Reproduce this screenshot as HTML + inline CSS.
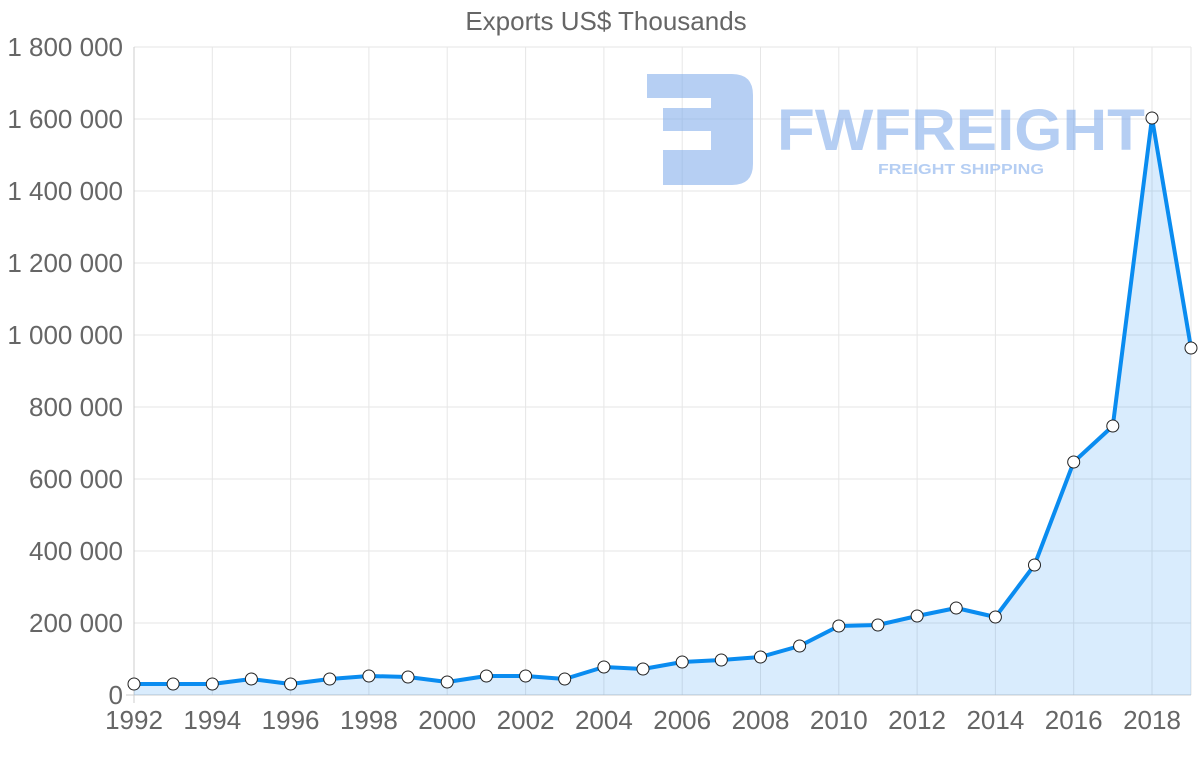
<!DOCTYPE html>
<html><head><meta charset="utf-8"><style>
body{margin:0;background:#fff;width:1200px;height:763px;overflow:hidden}
svg text{font-family:"Liberation Sans",sans-serif}
</style></head><body>
<svg width="1200" height="763" xmlns="http://www.w3.org/2000/svg">
<text x="606" y="30" text-anchor="middle" font-size="26" fill="#666">Exports US$ Thousands</text>
<g stroke="#e6e6e6" stroke-width="1">
<line x1="134" y1="47" x2="1191" y2="47"/><line x1="134" y1="119" x2="1191" y2="119"/>
<line x1="134" y1="191" x2="1191" y2="191"/><line x1="134" y1="263" x2="1191" y2="263"/>
<line x1="134" y1="335" x2="1191" y2="335"/><line x1="134" y1="407" x2="1191" y2="407"/>
<line x1="134" y1="479" x2="1191" y2="479"/><line x1="134" y1="551" x2="1191" y2="551"/>
<line x1="134" y1="623" x2="1191" y2="623"/>
<line x1="212.3" y1="47" x2="212.3" y2="695"/><line x1="290.6" y1="47" x2="290.6" y2="695"/>
<line x1="368.9" y1="47" x2="368.9" y2="695"/><line x1="447.2" y1="47" x2="447.2" y2="695"/>
<line x1="525.6" y1="47" x2="525.6" y2="695"/><line x1="603.9" y1="47" x2="603.9" y2="695"/>
<line x1="682.2" y1="47" x2="682.2" y2="695"/><line x1="760.5" y1="47" x2="760.5" y2="695"/>
<line x1="838.8" y1="47" x2="838.8" y2="695"/><line x1="917.1" y1="47" x2="917.1" y2="695"/>
<line x1="995.4" y1="47" x2="995.4" y2="695"/><line x1="1073.7" y1="47" x2="1073.7" y2="695"/>
<line x1="1152" y1="47" x2="1152" y2="695"/><line x1="1191" y1="47" x2="1191" y2="695"/>
</g>
<line x1="134" y1="47" x2="134" y2="703" stroke="#ccc"/>
<line x1="126" y1="695" x2="1191" y2="695" stroke="#ccc"/>
<g font-size="26" fill="#666" text-anchor="end">
<text x="123" y="56">1 800 000</text><text x="123" y="128">1 600 000</text>
<text x="123" y="200">1 400 000</text><text x="123" y="272">1 200 000</text>
<text x="123" y="344">1 000 000</text><text x="123" y="416">800 000</text>
<text x="123" y="488">600 000</text><text x="123" y="560">400 000</text>
<text x="123" y="632">200 000</text><text x="123" y="704">0</text>
</g>
<g font-size="26" fill="#666" text-anchor="middle">
<text x="134" y="729">1992</text><text x="212.3" y="729">1994</text><text x="290.6" y="729">1996</text>
<text x="368.9" y="729">1998</text><text x="447.2" y="729">2000</text><text x="525.6" y="729">2002</text>
<text x="603.9" y="729">2004</text><text x="682.2" y="729">2006</text><text x="760.5" y="729">2008</text>
<text x="838.8" y="729">2010</text><text x="917.1" y="729">2012</text><text x="995.4" y="729">2014</text>
<text x="1073.7" y="729">2016</text><text x="1152" y="729">2018</text>
</g>
<!-- logo -->
<g fill="#7aa7ea" opacity="0.55">
<path d="M647 74 H732 Q753 74 753 95 V164 Q753 185 732 185 H663 V150 H711 V131 H663 V108 H711 V98 H647 Z"/>
</g>
<text x="777" y="150" font-size="58" font-weight="bold" fill="#7aa7ea" opacity="0.55" textLength="368" lengthAdjust="spacingAndGlyphs">FWFREIGHT</text>
<text x="878" y="174" font-size="15" font-weight="bold" fill="#7aa7ea" opacity="0.55" font-family="Liberation Serif" textLength="166" lengthAdjust="spacingAndGlyphs">FREIGHT SHIPPING</text>
<path fill="rgba(0,130,240,0.15)" d="M134,684 L173.1,684 L212.3,684 L251.4,679 L290.6,684 L329.7,679 L368.9,676 L408,677 L447.2,682 L486.4,676 L525.6,676 L564.7,679 L603.9,667 L643,669 L682.2,662 L721.3,660 L760.5,657 L799.6,646 L838.8,626 L877.9,625 L917.1,616 L956.2,608 L995.4,617 L1034.5,565 L1073.7,462 L1112.8,426 L1152,118 L1191,348 L1191,695 L134,695 Z"/>
<polyline fill="none" stroke="#0a8cf0" stroke-width="4" stroke-linejoin="round" points="134,684 173.1,684 212.3,684 251.4,679 290.6,684 329.7,679 368.9,676 408,677 447.2,682 486.4,676 525.6,676 564.7,679 603.9,667 643,669 682.2,662 721.3,660 760.5,657 799.6,646 838.8,626 877.9,625 917.1,616 956.2,608 995.4,617 1034.5,565 1073.7,462 1112.8,426 1152,118 1191,348"/>
<g fill="#fff" stroke="#222" stroke-width="1">
<circle cx="134" cy="684" r="6"/><circle cx="173.1" cy="684" r="6"/><circle cx="212.3" cy="684" r="6"/>
<circle cx="251.4" cy="679" r="6"/><circle cx="290.6" cy="684" r="6"/><circle cx="329.7" cy="679" r="6"/>
<circle cx="368.9" cy="676" r="6"/><circle cx="408" cy="677" r="6"/><circle cx="447.2" cy="682" r="6"/>
<circle cx="486.4" cy="676" r="6"/><circle cx="525.6" cy="676" r="6"/><circle cx="564.7" cy="679" r="6"/>
<circle cx="603.9" cy="667" r="6"/><circle cx="643" cy="669" r="6"/><circle cx="682.2" cy="662" r="6"/>
<circle cx="721.3" cy="660" r="6"/><circle cx="760.5" cy="657" r="6"/><circle cx="799.6" cy="646" r="6"/>
<circle cx="838.8" cy="626" r="6"/><circle cx="877.9" cy="625" r="6"/><circle cx="917.1" cy="616" r="6"/>
<circle cx="956.2" cy="608" r="6"/><circle cx="995.4" cy="617" r="6"/><circle cx="1034.5" cy="565" r="6"/>
<circle cx="1073.7" cy="462" r="6"/><circle cx="1112.8" cy="426" r="6"/><circle cx="1152" cy="118" r="6"/>
<circle cx="1191" cy="348" r="6"/>
</g>
</svg>
</body></html>
